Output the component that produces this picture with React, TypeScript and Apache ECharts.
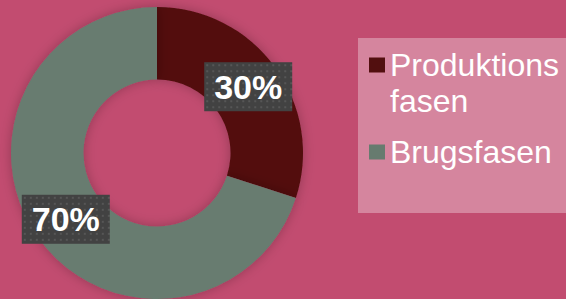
import React, { useEffect, useRef } from "react";
import * as echarts from "echarts";

const categories = ["Produktionsfasen", "Brugsfasen"];
const values = [30, 70];
const colors = ["#520f0f", "#677b6f"];
const legendLabels = ["\u00a0\nProduktions\nfasen", "Brugsfasen"];

function makePattern(w: number, h: number): string {
  const c = document.createElement("canvas");
  c.width = w;
  c.height = h;
  const ctx = c.getContext("2d");
  if (!ctx) return "";
  ctx.fillStyle = "#424242";
  ctx.fillRect(0, 0, w, h);
  ctx.fillStyle = "#565656";
  for (let y = 2; y < h; y += 6) {
    for (let x = 2; x < w; x += 6) {
      ctx.fillRect(x, y, 2, 2);
    }
  }
  return c.toDataURL();
}

export default function App() {
  const ref = useRef<HTMLDivElement>(null);
  useEffect(() => {
    if (!ref.current) return;
    const chart = echarts.init(ref.current, undefined, { renderer: "svg" });
    const pattern = makePattern(88, 49);
    chart.setOption({
      animation: false,
      backgroundColor: "#c24c70",
      graphic: [
        {
          type: "rect",
          z: 0,
          shape: { x: 358, y: 38, width: 230, height: 175 },
          style: { fill: "rgba(255,255,255,0.32)" },
        },
      ],
      legend: {
        orient: "vertical",
        left: 369,
        top: 11,
        padding: 0,
        itemGap: 15,
        icon: "rect",
        itemWidth: 16,
        itemHeight: 15,
        itemTextGap: 6,
        z: 3,
        textStyle: {
          fontFamily: "'Liberation Sans', Arial, sans-serif",
          fontSize: 32,
          lineHeight: 36,
          color: "#ffffff",
        },
        formatter: (name: string) => legendLabels[categories.indexOf(name)],
        data: categories,
      },
      series: [
        {
          type: "pie",
          center: [157, 153],
          radius: [73.5, 146],
          startAngle: 90,
          clockwise: true,
          avoidLabelOverlap: false,
          itemStyle: {
            shadowBlur: 12,
            shadowColor: "rgba(0,0,0,0.25)",
          },
          label: {
            show: true,
            position: "inside",
            formatter: "{c}%",
            fontFamily: "'Liberation Sans', Arial, sans-serif",
            fontWeight: "bold",
            fontSize: 34,
            lineHeight: 34,
            color: "#ffffff",
            overflow: "none",
            backgroundColor: pattern ? { image: pattern } : "#424242",
            padding: [8, 10, 7, 10],
            shadowBlur: 6,
            shadowOffsetX: 3,
            shadowOffsetY: 3,
            shadowColor: "rgba(0,0,0,0.5)",
          },
          labelLine: { show: false },
          emphasis: { disabled: true },
          data: categories.map((name, i) => ({
            name,
            value: values[i],
            itemStyle: { color: colors[i] },
          })),
        },
      ],
    });
    return () => chart.dispose();
  }, []);
  return (
    <div
      ref={ref}
      style={{ position: "fixed", left: 0, top: 0, width: 566, height: 299 }}
    />
  );
}
